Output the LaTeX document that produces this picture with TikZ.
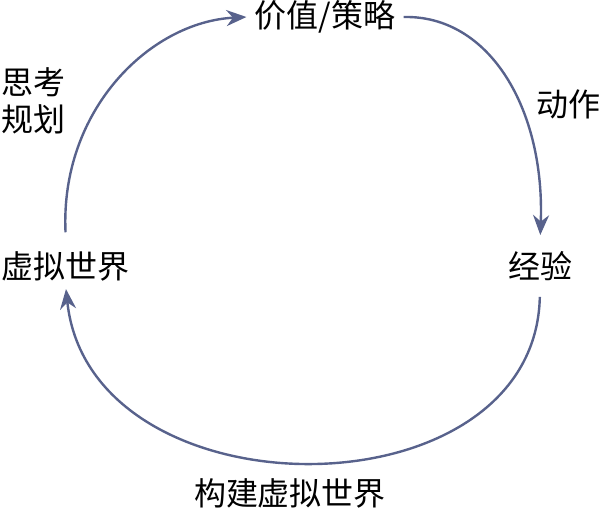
\documentclass[tikz,border=0pt]{standalone}
\usepackage{fontspec}
\newfontfamily\cjk{Noto Sans CJK SC}
\usetikzlibrary{arrows.meta}
\usetikzlibrary{positioning}
\definecolor{loopblue}{RGB}{88,98,140}
\tikzset{
  word/.style={font=\cjk\fontsize{24}{30}\selectfont, inner sep=6pt, align=center},
  cycle/.style={draw=loopblue, line width=1.8pt, -{Stealth[length=15pt,width=12pt]}},
}

\begin{document}
\begin{tikzpicture}[x=0.75pt,y=0.75pt,yscale=-1,xscale=1]
\useasboundingbox (0,0) rectangle (601,511);

% Text Node
\node[word] (value) at (325,17) {价值/策略};
% Text Node
\node[word] (exp) at (540,266) {经验};
% Text Node
\node[word] (world) at (66,266) {虚拟世界};
% Text Node
\node[word] (build) at (290,493) {构建虚拟世界};
% Text Node
\node[word] (act) at (568,104) {动作};
% Text Node
\node[word, font=\cjk\fontsize{24}{28}\selectfont] (plan) at (34,101) {思考\\规划};

% Curves
\draw[cycle, shorten <=8pt] (world.north) .. controls (60,110) and (150,22) .. (value.west);
\draw[cycle, shorten >=6pt] (value.east) .. controls (490,15) and (545,110) .. (exp.north);
\draw[cycle, shorten <=6pt] (exp.south) .. controls (535,519) and (90,519) .. (world.south);

\end{tikzpicture}
\end{document}
